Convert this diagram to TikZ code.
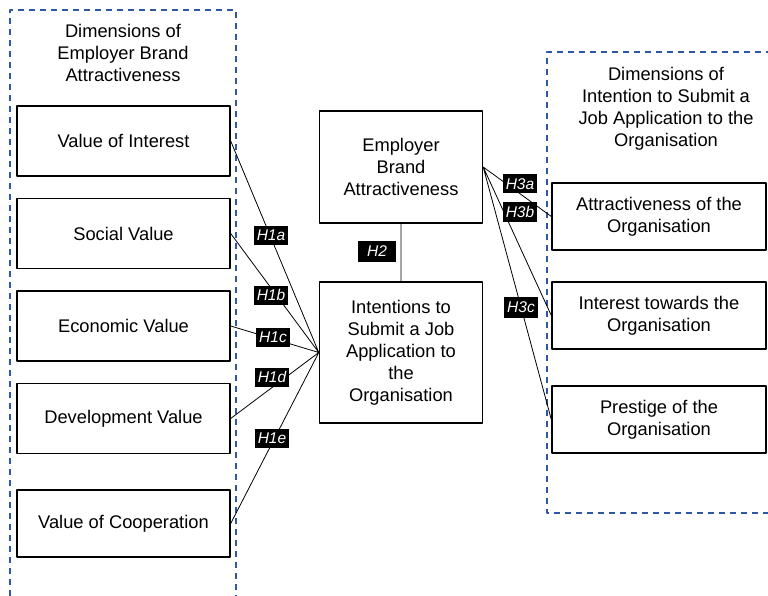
\documentclass[tikz,border=0pt]{standalone}
\usepackage{fontspec}
\setmainfont{Liberation Sans}
\usetikzlibrary{positioning}
\definecolor{dimblue}{RGB}{46,88,166}
\tikzset{
  box/.style={draw, line width=1.4pt, minimum width=213pt, minimum height=70pt, align=center, inner sep=0pt},
  hyp/.style={fill=black, text=white, font=\fontsize{15.5}{15.5}\selectfont\itshape, minimum width=34pt, minimum height=19pt, inner sep=1pt},
  dimframe/.style={draw=dimblue, dash pattern=on 6pt off 5pt, line width=1.2pt},
  link/.style={line width=0.8pt},
}
\begin{document}
\begin{tikzpicture}[x=1pt, y=-1pt, line join=round, font=\fontsize{18.3}{22}\selectfont]
  \useasboundingbox (0,0) rectangle (768,596);
  % dashed frames of the two groups
  \draw[dimframe] (10,596) -- (10,10) -- (236,10) -- (236,596);
  \draw[dimframe] (772,52) -- (547,52) -- (547,513) -- (772,513);
  \node[align=center] (ebaTitle) at (123,53) {Dimensions of\\Employer Brand\\Attractiveness};
  \node[align=center] (itsTitle) at (666,109) {Dimensions of\\Intention to Submit a\\Job Application to the\\Organisation};
  % dimensions of employer brand attractiveness
  \node[box] (interest) at (123.5,141) {Value of Interest};
  \node[box] (social) at (123.5,233.5) {Social Value};
  \node[box] (economic) at (123.5,326) {Economic Value};
  \node[box] (development) at (123.5,418.5) {Development Value};
  \node[box, minimum height=67pt] (cooperation) at (123.5,523.5) {Value of Cooperation};
  % the two constructs
  \node[box, minimum width=163pt, minimum height=112pt] (eba) at (401,167) {Employer\\Brand\\Attractiveness};
  \node[box, minimum width=163pt, minimum height=141pt] (intent) at (401,352.5) {Intentions to\\Submit a Job\\Application to\\the\\Organisation};
  % dimensions of the intention
  \node[box, minimum width=214pt, minimum height=67pt] (attract) at (659,216.5) {Attractiveness of the\\Organisation};
  \node[box, minimum width=214pt, minimum height=67pt] (towards) at (659,315.5) {Interest towards the\\Organisation};
  \node[box, minimum width=214pt, minimum height=67pt] (prestige) at (659,419.5) {Prestige of the\\Organisation};
  % links
  \draw[link]
    (interest.east) -- (intent.west)
    (social.east) -- (intent.west)
    (economic.east) -- (intent.west)
    (development.east) -- (intent.west)
    (cooperation.east) -- (intent.west)
    (eba.south) -- (intent.north)
    (eba.east) -- (attract.west)
    (eba.east) -- (towards.west)
    (eba.east) -- (prestige.west)
    ;
  % hypotheses
  \node[hyp] (h1a) at (271,235) {H1a};
  \node[hyp] (h1b) at (271,295) {H1b};
  \node[hyp] (h1c) at (273,337) {H1c};
  \node[hyp] (h1d) at (272,377) {H1d};
  \node[hyp] (h1e) at (272,438) {H1e};
  \node[hyp, minimum width=38pt, minimum height=21pt] (h2) at (377,251) {H2};
  \node[hyp] (h3a) at (520,184) {H3a};
  \node[hyp] (h3b) at (520,212) {H3b};
  \node[hyp, minimum height=21pt] (h3c) at (521,307) {H3c};
\end{tikzpicture}
\end{document}
